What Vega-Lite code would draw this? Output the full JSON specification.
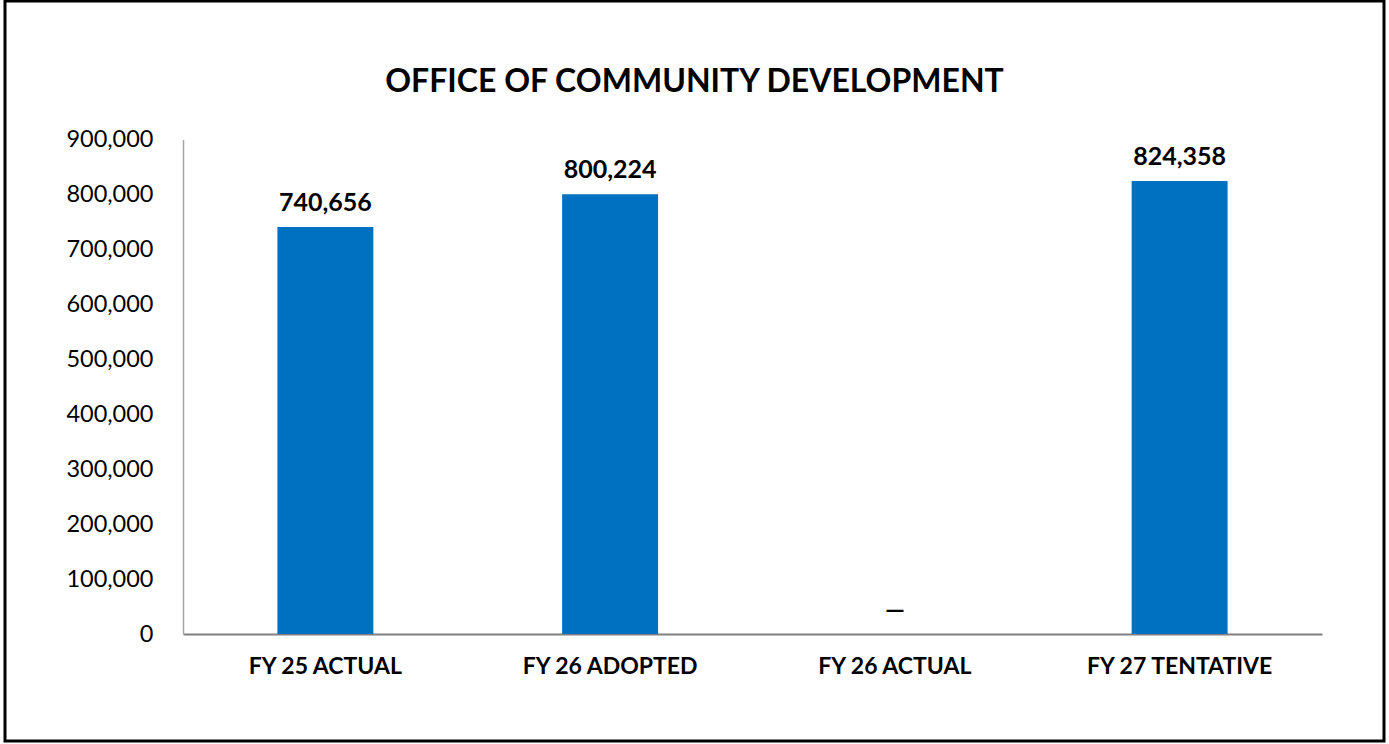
{
  "$schema": "https://vega.github.io/schema/vega-lite/v6.json",
  "width": 1379,
  "height": 740,
  "autosize": {"type": "none"},
  "padding": {"left": 5, "top": 1, "right": 5, "bottom": 3},
  "background": "white",
  "config": {
    "view": {"stroke": "black", "strokeWidth": 3},
    "font": "Lato"
  },
  "title": {
    "text": "OFFICE OF COMMUNITY DEVELOPMENT",
    "font": "Lato",
    "fontSize": 32,
    "fontWeight": "bold",
    "color": "black",
    "anchor": "middle",
    "offset": -98
  },
  "data": {
    "values": [
      {"category": "FY 25 ACTUAL", "value": 740656},
      {"category": "FY 26 ADOPTED", "value": 800224},
      {"category": "FY 26 ACTUAL", "value": 0},
      {"category": "FY 27 TENTATIVE", "value": 824358}
    ]
  },
  "transform": [
    {"calculate": "datum.value == 0 ? '—' : format(datum.value, ',d')", "as": "label"}
  ],
  "encoding": {
    "x": {
      "field": "category",
      "type": "nominal",
      "sort": null,
      "scale": {"range": [178, 1317], "paddingInner": 0.663, "paddingOuter": 0.3315},
      "axis": {
        "title": null,
        "labelAngle": 0,
        "labelFont": "Lato",
        "labelFontWeight": "bold",
        "labelFontSize": 23,
        "labelColor": "black",
        "labelLimit": 500,
        "domainColor": "#808080",
        "domainWidth": 2,
        "ticks": false,
        "tickSize": 0,
        "labelPadding": 21,
        "offset": -107
      }
    },
    "y": {
      "field": "value",
      "type": "quantitative",
      "scale": {"domain": [0, 900000], "range": [633, 138.5], "nice": false, "zero": true},
      "axis": {
        "title": null,
        "grid": false,
        "values": [0, 100000, 200000, 300000, 400000, 500000, 600000, 700000, 800000, 900000],
        "format": ",d",
        "labelFont": "Lato",
        "labelFontSize": 23.5,
        "labelColor": "black",
        "domainColor": "#A6A6A6",
        "domainWidth": 1.5,
        "ticks": false,
        "tickSize": 0,
        "labelPadding": 30,
        "offset": -178
      }
    }
  },
  "layer": [
    {"mark": {"type": "bar", "color": "#0070C0"}},
    {
      "mark": {"type": "text", "baseline": "alphabetic", "dy": -16, "font": "Lato", "fontWeight": "bold", "fontSize": 25, "color": "black"},
      "encoding": {"text": {"field": "label"}}
    }
  ]
}
